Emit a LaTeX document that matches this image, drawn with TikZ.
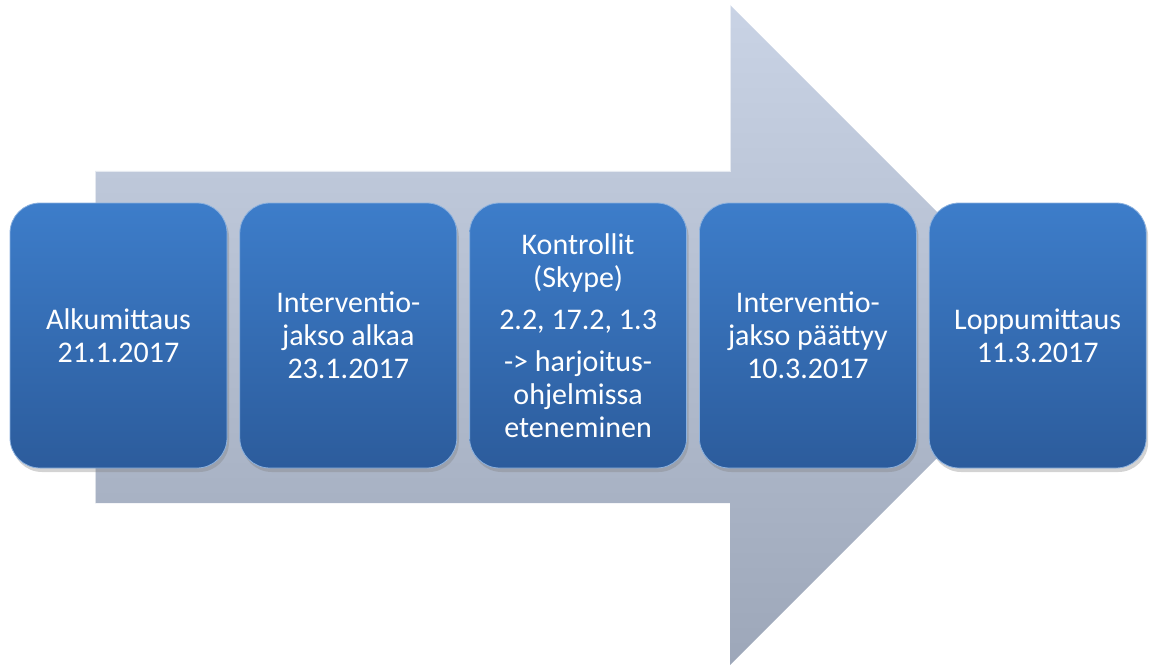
\documentclass[tikz,border=0pt]{standalone}
\usepackage{fontspec}
\setmainfont{Carlito}
\usetikzlibrary{positioning,shadows}

\definecolor{boxtop}{HTML}{3D7DCA}
\definecolor{boxbottom}{HTML}{2C5C9C}
\definecolor{arrowtop}{HTML}{C9D3E5}
\definecolor{arrowbottom}{HTML}{9DA7B9}

\tikzset{
  phase/.style={rectangle, rounded corners=30pt, minimum width=217pt,
    minimum height=265pt, inner sep=0pt, align=center, text=white,
    top color=boxtop, bottom color=boxbottom, draw=boxtop!60!white,
    line width=0.8pt, font=\fontsize{30}{33}\selectfont,
    drop shadow={shadow xshift=2pt, shadow yshift=-4pt, opacity=0.35}},
}

\begin{document}
\begin{tikzpicture}[x=1pt, y=-1pt]
\useasboundingbox (0,0) rectangle (1149,666);
% big arrow behind
\shade[top color=arrowtop, bottom color=arrowbottom]
  (95,171) -- (730,171) -- (730,5) -- (1060,335) -- (730,665)
  -- (730,503) -- (95,503) -- cycle;
\draw[white, opacity=0.6, line width=1.5pt] (95,503) -- (95,171) -- (730,171) -- (730,5);

\node[phase] (alku) at (118.5,335.5) {Alkumittaus\\21.1.2017};
\node[phase, right=12pt of alku] (alkaa) {Interventio-\\jakso alkaa\\23.1.2017};
\node[phase, right=12pt of alkaa] (kontrollit) {Kontrollit\\(Skype)\\[9pt]
  2.2, 17.2, 1.3\\[9pt] -> harjoitus-\\ohjelmissa\\eteneminen};
\node[phase, right=12pt of kontrollit] (paattyy) {Interventio-\\jakso päättyy\\10.3.2017};
\node[phase, right=12pt of paattyy] (loppu) {Loppumittaus\\11.3.2017};
\end{tikzpicture}
\end{document}
